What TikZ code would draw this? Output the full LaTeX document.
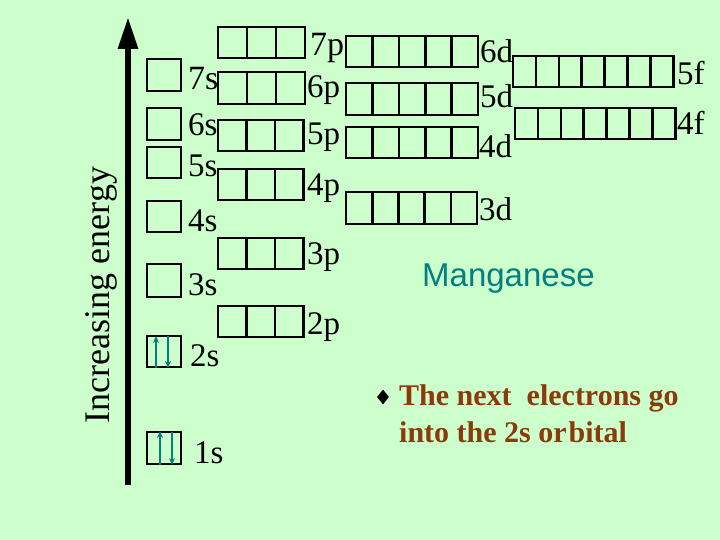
\documentclass[tikz,border=0pt]{standalone}
\usepackage{fontspec}
\setmainfont{Liberation Serif}
\newfontfamily\arialf{Liberation Sans}
\usetikzlibrary{arrows.meta,shapes.geometric}
\definecolor{bgg}{RGB}{204,255,204}
\definecolor{tealc}{RGB}{0,128,128}
\definecolor{brownc}{RGB}{140,58,12}
\tikzset{
  cell/.style={draw=black,line width=2.6pt},
  lbl/.style={anchor=base west,inner sep=0pt,font=\fontsize{33}{36}\selectfont},
  lblbig/.style={anchor=base west,inner sep=0pt,font=\fontsize{34}{36}\selectfont},
  elec/.style={draw=tealc,line width=2pt,-{Stealth[length=7pt,width=6pt]}},
}
\newcommand\orbrow[5]{% x0, ytop, ybot, n, w
  \foreach \i in {1,...,#4}{\draw[cell] ({#1+(\i-1)*#5},#2) rectangle ({#1+\i*#5},#3);}}
\begin{document}
\begin{tikzpicture}[x=1pt,y=-1pt]
\fill[bgg] (0,0) rectangle (720,540);
\useasboundingbox (0,0) rectangle (720,540);
% energy axis
\coordinate (axb) at (128,485);
\coordinate (axt) at (128,17);
\draw[line width=6pt,-{Triangle[length=32pt,width=19pt]}] (axb) -- (axt);
\node[rotate=90,inner sep=0pt,font=\fontsize{36}{40}\selectfont] (ie) at (101,295) {Increasing energy};
% s orbitals
\orbrow{147}{59}{91}{1}{34}
\orbrow{147}{108}{140}{1}{34}
\orbrow{147}{147}{178}{1}{34}
\orbrow{147}{201}{232}{1}{34}
\orbrow{147}{264}{297}{1}{34}
\orbrow{147}{336}{367}{1}{34}
\orbrow{147}{432}{464}{1}{34}
\node[lblbig] (l7s) at (188,90) {7s};
\node[lbl] (l6s) at (188,136) {6s};
\node[lbl] (l5s) at (188,177) {5s};
\node[lbl] (l4s) at (188,231) {4s};
\node[lbl] (l3s) at (188,295) {3s};
\node[lbl] (l2s) at (190,366) {2s};
\node[lbl] (l1s) at (194,463) {1s};
% p orbitals
\orbrow{218}{27}{58}{3}{29}
\orbrow{218}{72}{104}{3}{29}
\orbrow{218}{120}{151}{3}{28.5}
\orbrow{218}{169}{200}{3}{28.5}
\orbrow{218}{238}{269}{3}{28.5}
\orbrow{218}{306}{337}{3}{28.5}
\node[lblbig] (l7p) at (310,56) {7p};
\node[lbl] (l6p) at (307,98) {6p};
\node[lbl] (l5p) at (307,145) {5p};
\node[lbl] (l4p) at (307,196) {4p};
\node[lbl] (l3p) at (307,264) {3p};
\node[lbl] (l2p) at (307,334) {2p};
% d orbitals
\orbrow{346}{36}{67}{5}{26.4}
\orbrow{346}{83}{115}{5}{26.4}
\orbrow{346}{127}{158}{5}{26.4}
\orbrow{346}{192}{224}{5}{26.2}
\node[lbl] (l6d) at (480,63) {6d};
\node[lbl] (l5d) at (480,108) {5d};
\node[lbl] (l4d) at (479,158) {4d};
\node[lbl] (l3d) at (479,221) {3d};
% f orbitals
\orbrow{513}{56}{87}{7}{22.9}
\orbrow{515}{108}{139}{7}{22.9}
\node[lbl] (l5f) at (677,85) {5f};
\node[lbl] (l4f) at (677,135) {4f};
% electrons
\coordinate (e2ua) at (156,368); \coordinate (e2ub) at (156,336);
\coordinate (e2da) at (168,336); \coordinate (e2db) at (168,368);
\coordinate (e1ua) at (160,465); \coordinate (e1ub) at (160,431);
\coordinate (e1da) at (172,432); \coordinate (e1db) at (172,465);
\draw[elec] (e2ua) -- (e2ub);
\draw[elec] (e2da) -- (e2db);
\draw[elec] (e1ua) -- (e1ub);
\draw[elec] (e1da) -- (e1db);
% title
\node[anchor=base west,inner sep=0pt,text=tealc,font=\arialf\fontsize{33}{36}\selectfont] (mn) at (422,286) {Manganese};
% bullet text
\node[diamond,fill=black,inner sep=0pt,minimum width=12pt,minimum height=15pt] (bul) at (383,397) {};
\node[anchor=base west,inner sep=0pt,text=brownc,font=\bfseries\fontsize{30}{37}\selectfont] (txt1) at (399,405) {The next\ \ electrons go};
\node[anchor=base west,inner sep=0pt,text=brownc,font=\bfseries\fontsize{30}{37}\selectfont] (txt2) at (399,442) {into the 2s or\kern2pt bital};
\end{tikzpicture}
\end{document}
